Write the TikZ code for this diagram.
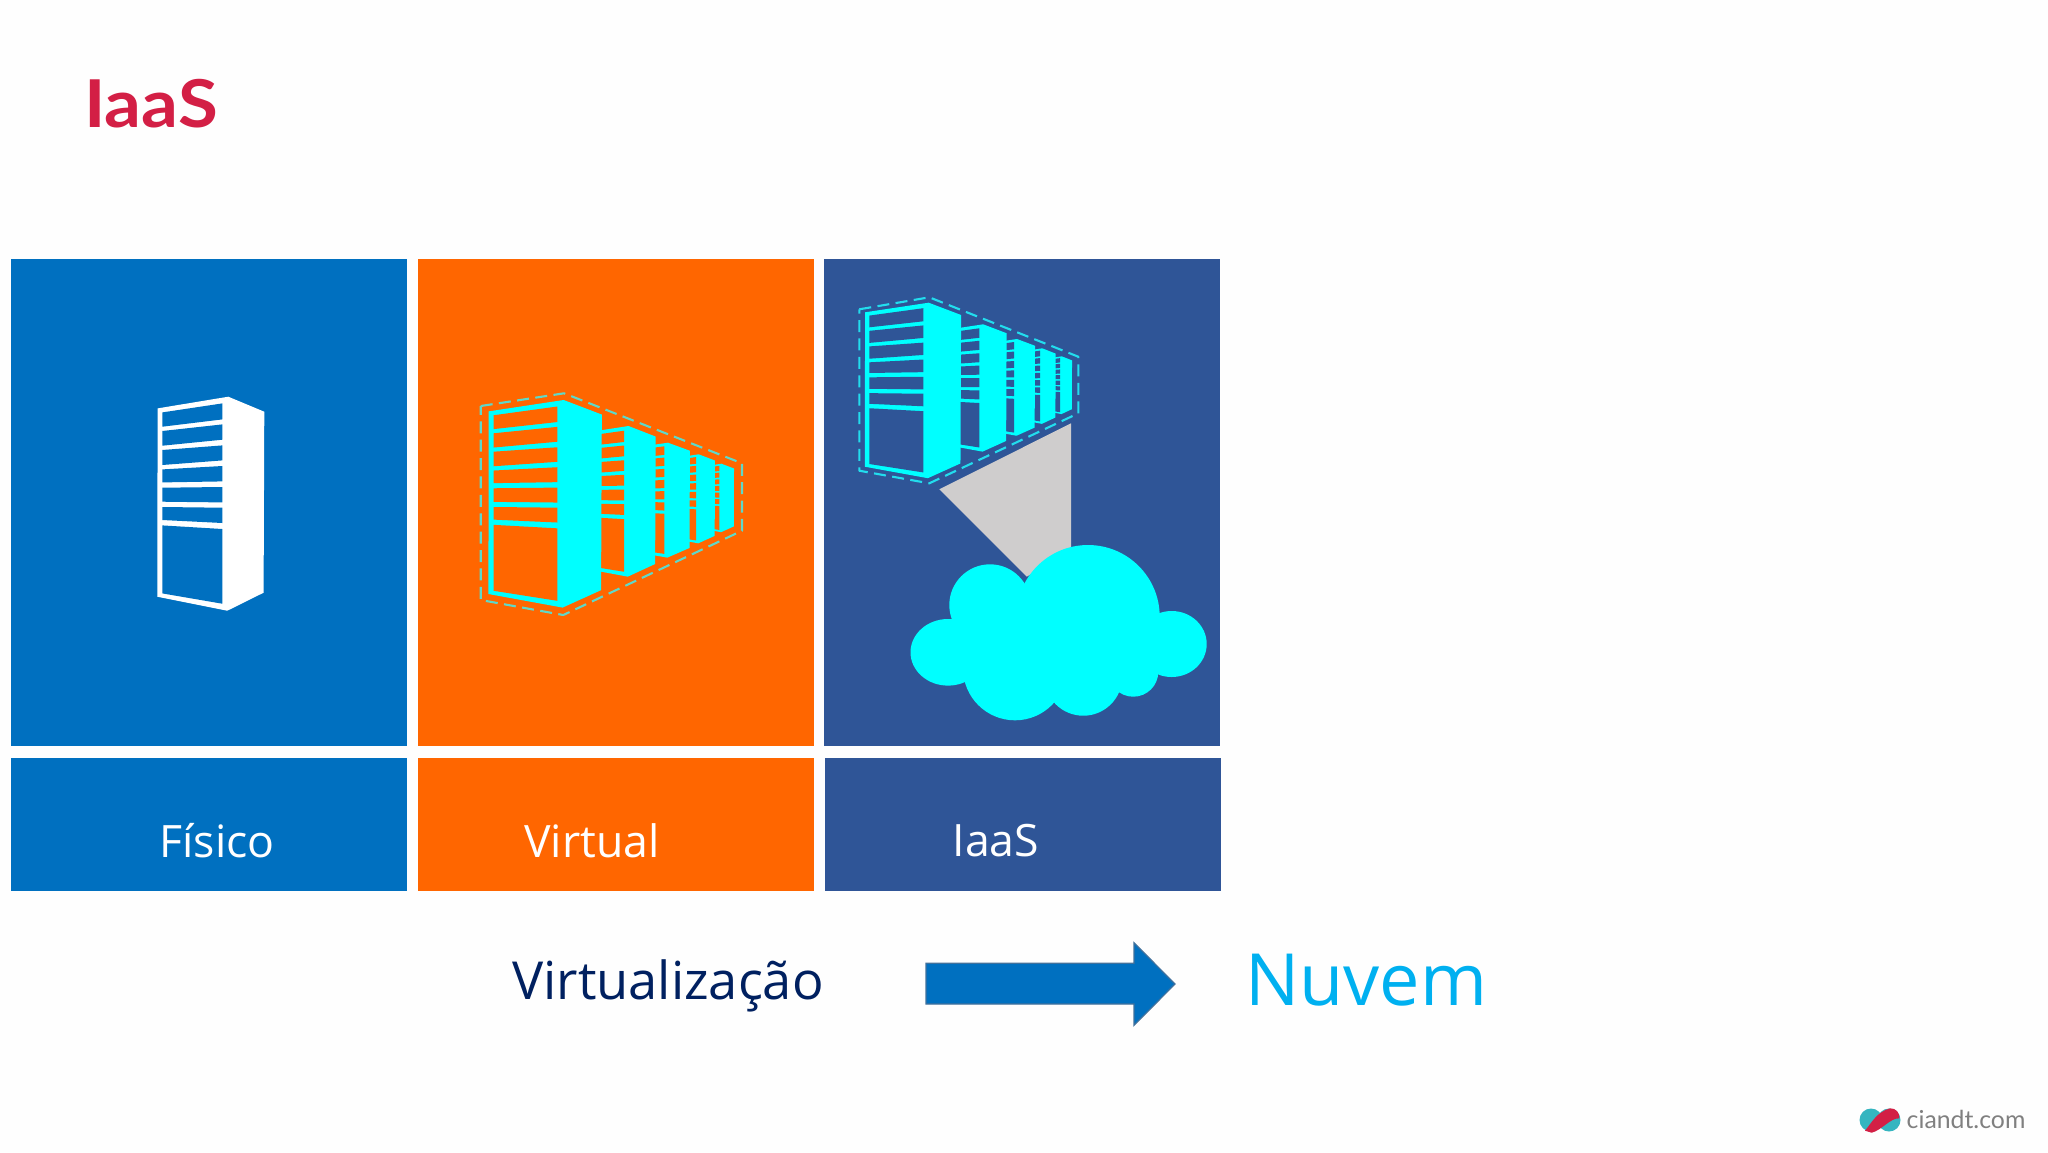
\documentclass[tikz,border=0pt]{standalone}
\usepackage{fontspec}
\setmainfont{Open Sans}
\newfontfamily\titlefont{Lato}
\usepackage{xcolor}
\usetikzlibrary{arrows.meta, calc}
\definecolor{tileBlue}{HTML}{0070C0}
\definecolor{tileOrange}{HTML}{FF6600}
\definecolor{tileNavy}{HTML}{2F5597}
\definecolor{rackCyan}{HTML}{00FFFF}
\definecolor{titleRed}{HTML}{D31F45}
\definecolor{logoTeal}{HTML}{35B5C0}
\definecolor{dashOrange}{HTML}{5FD8C8}
\definecolor{dashNavy}{HTML}{22DDEE}
\definecolor{beamGray}{HTML}{CFCDCD}
\definecolor{textNavy}{HTML}{002060}
\definecolor{textSky}{HTML}{00B0F0}
\definecolor{arrowEdge}{HTML}{41719C}
\definecolor{logoGray}{HTML}{808080}
\tikzset{
	pics/rack/.style 2 args={code={
		\fill[#1] (-64.7,11.7) -- (6,0) -- (42,15) -- (41.3,196) -- (5,214) -- (-65,200) -- cycle;
		\fill[#2] (-60,15.7) -- (0,6.7) -- (0,22.7) -- (-60,30) -- cycle;
		\fill[#2] (-60,34.3) -- (0,27.7) -- (0,43) -- (-60,49) -- cycle;
		\fill[#2] (-60,53.3) -- (0,48.7) -- (0,63.7) -- (-60,68.3) -- cycle;
		\fill[#2] (-60,72.7) -- (0,69.3) -- (0,84.7) -- (-60,85.7) -- cycle;
		\fill[#2] (-60,91) -- (0,90.3) -- (0,105.7) -- (-60,105) -- cycle;
		\fill[#2] (-60,110.3) -- (0,111) -- (0,126.3) -- (-60,123.3) -- cycle;
		\fill[#2] (-60,128.7) -- (0,132.3) -- (0,207) -- (-60,196.7) -- cycle;
	}},
	caption/.style={text=white, font=\fontsize{22.3}{26}\selectfont, inner sep=0pt},
	dashline/.style={line width=1.05pt, dash pattern=on 6pt off 3.2pt, line join=round},
}
\begin{document}
\begin{tikzpicture}[x=.5pt, y=-.5pt]
	\useasboundingbox (0,0) rectangle (2048,1152);
	\fill[white!99.5!black] (0,0) rectangle (2048,1152);

	\node[text=titleRed, xscale=1.1, font=\titlefont\bfseries\fontsize{33}{38}\selectfont, inner sep=0pt] (title) at (151,104) {IaaS};

	% tiles
	\fill[tileBlue] (11,259) rectangle (407,746);
	\fill[tileOrange] (418,259) rectangle (814,746);
	\fill[tileNavy] (824,259) rectangle (1220,746);
	\fill[tileBlue] (11,758) rectangle (407,891);
	\fill[tileOrange] (418,758) rectangle (814,891);
	\fill[tileNavy] (825,758) rectangle (1221,891);
	\node[caption] (fisico) at (217,841) {Físico};
	\node[caption] (virtual) at (592,841) {Virtual};
	\node[caption] (iaas) at (996,841) {IaaS};

	% physical server
	\pic at (222.3,396.7) {rack={white}{tileBlue}};

	% virtual servers
	\foreach \px/\py/\sx/\sy in {719.3/463.7/.35/.32, 696/454.3/.452/.416, 664.3/442.7/.61/.537, 624/426/.754/.704, 557.3/400/1.06/.97}
		\pic[xscale=\sx, yscale=\sy] at (\px,\py) {rack={rackCyan}{tileOrange}};
	\draw[dashline, draw=dashOrange] (480.7,406) -- (564,393.3) -- (742,463.3) -- (742,530.7) -- (563.3,615) -- (480.7,600) -- cycle;

	% iaas servers
	\foreach \px/\py/\sx/\sy in {1060/356.3/.286/.27, 1040/348.3/.373/.353, 1014/339/.5/.452, 979.3/324.3/.65/.595, 923.3/302.7/.9/.82}
		\pic[xscale=\sx, yscale=\sy] at (\px,\py) {rack={rackCyan}{tileNavy}};
	\draw[dashline, draw=dashNavy] (859.3,309.3) -- (929.3,297.3) -- (1078.3,356.7) -- (1078.3,413.3) -- (929.3,483.3) -- (859.3,470.7) -- cycle;

	% beam and cloud
	\fill[beamGray] (939.3,489.3) -- (1071,423.3) -- (1071,550) -- (1026.7,576.7) -- cycle;
	\fill[rackCyan] (1088,616.7) circle (71.7);
	\fill[rackCyan] (990,605) circle (40.7);
	\fill[rackCyan] (948,652.3) ellipse (37.5 and 33.3);
	\fill[rackCyan] (1171.7,644) ellipse (35 and 33);
	\fill[rackCyan] (1015,668.3) circle (52);
	\fill[rackCyan] (1083.3,676.7) circle (39);
	\fill[rackCyan] (1133.3,671.7) circle (25);
	\fill[rackCyan] (965,625) rectangle (1150,670);

	% bottom row
	\node[text=textNavy, font=\fontsize{26.2}{30}\selectfont, inner sep=0pt] (virtualizacao) at (668,986) {Virtualização};
	\fill[tileBlue, draw=arrowEdge, line width=.6pt] (926,963.3) -- (1134,963.3) -- (1134,942.7) -- (1175,984) -- (1134,1025.3) -- (1134,1004) -- (926,1004) -- cycle;
	\node[text=textSky, font=\fontsize{36}{42}\selectfont, inner sep=0pt] (nuvem) at (1366,980) {Nuvem};

	% logo
	\fill[logoTeal] (1871,1120) circle (11.5);
	\fill[logoTeal] (1889,1120) circle (11.5);
	\fill[titleRed] (1865,1130.7) .. controls (1872,1122) and (1877,1112) .. (1890,1108.3) .. controls (1896,1108) and (1900,1113) .. (1899.3,1118.3) .. controls (1890,1118) and (1882,1130) .. (1871.7,1132.7) -- cycle;
	\node[text=logoGray, font=\titlefont\fontsize{12.4}{14}\selectfont, inner sep=0pt] (ciandt) at (1966,1119) {ciandt.com};
\end{tikzpicture}
\end{document}
